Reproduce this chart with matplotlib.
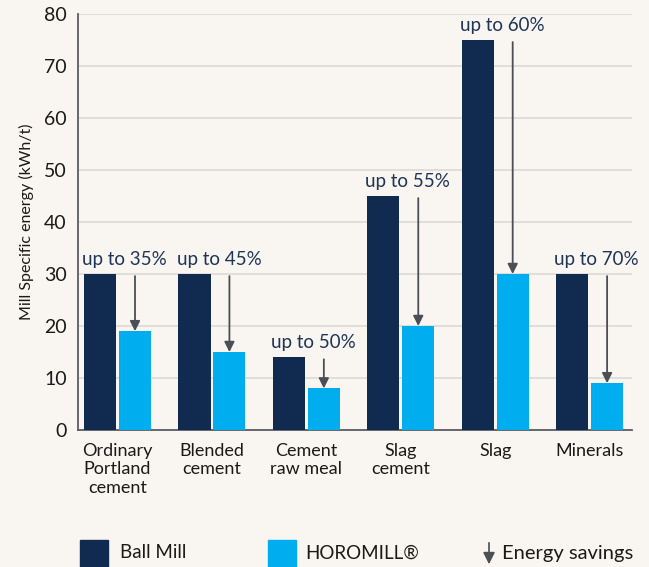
"""Mill specific energy: ball mill vs HOROMILL, grouped bars with savings arrows."""

import matplotlib

matplotlib.use("Agg")
import matplotlib.pyplot as plt  # noqa: E402
import numpy as np  # noqa: E402
from matplotlib.patches import FancyArrowPatch, Rectangle  # noqa: E402

categories = [
    "Ordinary\nPortland\ncement",
    "Blended\ncement",
    "Cement\nraw meal",
    "Slag\ncement",
    "Slag",
    "Minerals",
]
ball_mill = [30, 30, 14, 45, 75, 30]
horomill = [19, 15, 8, 20, 30, 9]
savings = ["up to 35%", "up to 45%", "up to 50%", "up to 55%", "up to 60%", "up to 70%"]

navy = "#112a4f"
cyan = "#00adef"
background = "#f9f5f0"
text_color = "#1f3557"
arrow_color = "#4a4e55"

plt.rcParams["font.family"] = ["Lato", "DejaVu Sans"]

figure = plt.figure(figsize=(6.49, 5.67), dpi=100, facecolor=background)
axes = figure.add_axes([0.120, 0.2416, 0.854, 0.7337], facecolor=background)

x = np.arange(len(categories))
width = 0.34
offset = 0.185
axes.bar(x - offset, ball_mill, width, color=navy, zorder=3)
axes.bar(x + offset, horomill, width, color=cyan, zorder=3)

for xi, top, low, label in zip(x, ball_mill, horomill, savings, strict=True):
    axes.annotate(
        "",
        xy=(xi + offset, low),
        xytext=(xi + offset, top - 0.4),
        arrowprops=dict(
            arrowstyle="-|>,head_length=0.6,head_width=0.3",
            color=arrow_color,
            lw=1.3,
            shrinkA=0,
            shrinkB=0,
        ),
        zorder=4,
    )
    axes.text(
        xi - offset - width / 2 - 0.02,
        top + 1.2,
        label,
        ha="left",
        va="bottom",
        fontsize=13.5,
        color=text_color,
    )

axes.set_xlim(-0.42, 5.45)
axes.set_ylim(0, 80)
axes.set_yticks(np.arange(0, 81, 10))
axes.set_xticks(x)
axes.set_xticklabels(categories, fontsize=13, color="#1a1a1a", linespacing=1.2)
axes.tick_params(axis="y", length=0, labelsize=14, pad=8, labelcolor="#1a1a1a")
axes.tick_params(axis="x", length=0, pad=9)
axes.grid(axis="y", color="#dcdad6", lw=1.2, zorder=0)
for side in ("top", "right"):
    axes.spines[side].set_visible(False)
for side in ("left", "bottom"):
    axes.spines[side].set_color("#5a5d63")
    axes.spines[side].set_linewidth(1.3)
axes.set_ylabel("Mill Specific energy (kWh/t)", fontsize=11.5, color="#1a1a1a", labelpad=7)

# legend row at the bottom edge
figure.add_artist(Rectangle((80 / 649, 0), 28 / 649, 27 / 567, color=navy,
                            transform=figure.transFigure))
figure.text(120 / 649, 14 / 567, "Ball Mill", fontsize=13.5, va="center", color="#1a1a1a")
figure.add_artist(Rectangle((268 / 649, 0), 28 / 649, 27 / 567, color=cyan,
                            transform=figure.transFigure))
figure.text(305 / 649, 14 / 567, "HOROMILL®", fontsize=13.5, va="center", color="#1a1a1a")
figure.add_artist(
    FancyArrowPatch(
        (489 / 649, 27 / 567), (489 / 649, 0), transform=figure.transFigure,
        arrowstyle="-|>,head_length=0.5,head_width=0.25", color=arrow_color, lw=1.2,
        mutation_scale=14,
    )
)
figure.text(502 / 649, 14 / 567, "Energy savings", fontsize=14.5, va="center", color="#1a1a1a")

figure.savefig("out.png", dpi=100, facecolor=background)
